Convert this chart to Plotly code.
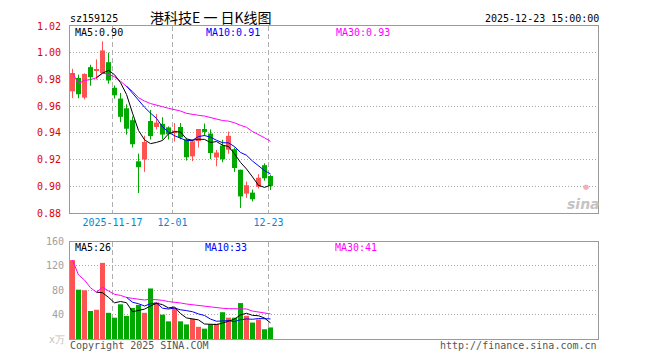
import plotly.graph_objects as go
import pandas as pd

# ---------------- data ----------------
dates = ["2025-11-06", "2025-11-07", "2025-11-10", "2025-11-11", "2025-11-12", "2025-11-13",
         "2025-11-14", "2025-11-17", "2025-11-18", "2025-11-19", "2025-11-20", "2025-11-21",
         "2025-11-24", "2025-11-25", "2025-11-26", "2025-11-27", "2025-11-28", "2025-12-01",
         "2025-12-02", "2025-12-03", "2025-12-04", "2025-12-05", "2025-12-08", "2025-12-09",
         "2025-12-10", "2025-12-11", "2025-12-12", "2025-12-15", "2025-12-16", "2025-12-17",
         "2025-12-18", "2025-12-19", "2025-12-22", "2025-12-23"]
opens = [0.9711, 0.9811, 0.9664, 0.9892, 0.9865, 0.9848, 0.9929, 0.9738, 0.9657, 0.9584,
         0.9495, 0.9187, 0.9201, 0.9489, 0.9444, 0.9467, 0.9441, 0.9398, 0.9444, 0.9351,
         0.9224, 0.9339, 0.9429, 0.9395, 0.9216, 0.9305, 0.9274, 0.9278, 0.9124, 0.8945,
         0.8953, 0.8997, 0.9158, 0.9077]
highs = [0.9880, 0.9836, 0.9846, 0.9910, 0.9950, 1.0085, 1.0000, 0.9755, 0.9699, 0.9614,
         0.9523, 0.9245, 0.9378, 0.9571, 0.9540, 0.9517, 0.9448, 0.9473, 0.9474, 0.9363,
         0.9351, 0.9429, 0.9470, 0.9426, 0.9272, 0.9348, 0.9410, 0.9290, 0.9124, 0.9035,
         0.8975, 0.9090, 0.9172, 0.9085]
lows = [0.9660, 0.9659, 0.9652, 0.9753, 0.9800, 0.9848, 0.9768, 0.9657, 0.9480, 0.9387,
        0.9290, 0.8949, 0.9108, 0.9350, 0.9426, 0.9350, 0.9350, 0.9335, 0.9351, 0.9193,
        0.9188, 0.9290, 0.9376, 0.9204, 0.9150, 0.9180, 0.9244, 0.9108, 0.8838, 0.8913,
        0.8887, 0.8984, 0.9042, 0.8972]
closes = [0.9848, 0.9689, 0.9841, 0.9817, 0.9870, 1.0017, 0.9792, 0.9681, 0.9520, 0.9431,
          0.9315, 0.9143, 0.9332, 0.9376, 0.9477, 0.9387, 0.9390, 0.9415, 0.9365, 0.9217,
          0.9337, 0.9429, 0.9407, 0.9249, 0.9253, 0.9202, 0.9378, 0.9137, 0.8924, 0.9008,
          0.8903, 0.9064, 0.9060, 0.9003]
volumes = [129.5, 81, 80, 46, 48, 125, 43, 35, 57, 38,
           51, 56, 43, 83, 60, 40, 29, 51, 29, 24,
           33, 20, 17, 24, 25, 44, 35, 35, 59, 38,
           27, 32, 16, 19]  # 万手

tick_dates = ["2025-11-17", "2025-12-01", "2025-12-23"]
tick_labels = ["2025-11-17", "12-01", "12-23"]
price_ticks = [0.88, 0.90, 0.92, 0.94, 0.96, 0.98, 1.00, 1.02]
vol_ticks = [40, 80, 120, 160]

symbol = "sz159125"
title = "港科技E 一 日K线图"
stamp = "2025-12-23 15:00:00"

# ---------------- styles / geometry (page pixels) ----------------
RED = "#ff5252"
GREEN = "#00a800"
MONO = "DejaVu Sans Mono"
OFF = 8                      # default page body margin
W, H = 660 - OFF, 360 - OFF  # figure size
PLOT_L, PLOT_R, PLOT_T, PLOT_B = 70, 598, 21, 339   # plot area in page pixels
L, T = PLOT_L - OFF, PLOT_T - OFF
R = W - (PLOT_R - OFF)
B = H - (PLOT_B - OFF)
PW, PH = PLOT_R - PLOT_L, PLOT_B - PLOT_T


def px(x):
    return (x - PLOT_L) / PW


def py(y):
    return (PLOT_B - y) / PH


df = pd.DataFrame({"o": opens, "h": highs, "l": lows, "c": closes, "v": volumes})
n = len(df)
idx = list(range(n))
up = df["c"] >= df["o"]
colors = [RED if u else GREEN for u in up]

ma5 = df["c"].rolling(5).mean()
ma10 = df["c"].rolling(10).mean()
ma30 = df["c"].rolling(30, min_periods=1).mean()
vma5 = df["v"].rolling(5).mean()
vma10 = df["v"].rolling(10).mean()
vma30 = df["v"].rolling(30, min_periods=1).mean()

fig = go.Figure()

# candle bodies
body_base = [min(o, c) for o, c in zip(df["o"], df["c"])]
body_h = [max(abs(c - o), 0.0006) for o, c in zip(df["o"], df["c"])]
fig.add_trace(go.Bar(x=idx, y=body_h, base=body_base, width=5 / 6,
                     marker=dict(color=colors, line=dict(width=0)),
                     xaxis="x", yaxis="y"))

# wicks
for col, flag in ((RED, True), (GREEN, False)):
    xs, ys = [], []
    for i in idx:
        if bool(up[i]) == flag:
            xs += [i, i, None]
            ys += [df["l"][i], df["h"][i], None]
    fig.add_trace(go.Scatter(x=xs, y=ys, mode="lines",
                             line=dict(color=col, width=1), xaxis="x", yaxis="y"))

for s, col in ((ma30, "#ff00ff"), (ma10, "#0000ff"), (ma5, "#000000")):
    fig.add_trace(go.Scatter(x=idx, y=s, mode="lines", line=dict(color=col, width=1),
                             xaxis="x", yaxis="y"))

# volume
fig.add_trace(go.Bar(x=idx, y=df["v"], width=5 / 6,
                     marker=dict(color=colors, line=dict(width=0)),
                     xaxis="x2", yaxis="y2"))
for s, col in ((vma30, "#ff00ff"), (vma10, "#0000ff"), (vma5, "#000000")):
    fig.add_trace(go.Scatter(x=idx, y=s, mode="lines", line=dict(color=col, width=1),
                             xaxis="x2", yaxis="y2"))

tickpos = [dates.index(d) - 1 / 3 for d in tick_dates]
xrange = [-2.5 / 6, 88 - 2.5 / 6]   # 6 px per trading day

axis_line = dict(showline=True, mirror=True, linecolor="#9a9a9a", linewidth=1,
                 zeroline=False, ticks="")

fig.update_layout(
    width=W, height=H, margin=dict(l=L, r=R, t=T, b=B, pad=0),
    paper_bgcolor="white", plot_bgcolor="white", showlegend=False,
    barmode="overlay",
    xaxis=dict(domain=[0, 1], anchor="y", range=xrange, tickmode="array",
               tickvals=tickpos, ticktext=tick_labels, showgrid=True,
               gridcolor="#b0b0b0", griddash="5px,3px", gridwidth=1,
               tickfont=dict(family=MONO, size=10, color="#0a86cf"), **axis_line),
    yaxis=dict(domain=[py(211), 1], anchor="x", range=[0.88, 1.02], tickmode="array",
               tickvals=price_ticks, ticktext=[f"{v:.2f}" for v in price_ticks],
               showgrid=True, gridcolor="#a8a8a8", griddash="1px,2px", gridwidth=1,
               tickfont=dict(family=MONO, size=10, color="#e00000"),
               ticklabelstandoff=6, **axis_line),
    xaxis2=dict(domain=[0, 1], anchor="y2", range=xrange, tickmode="array",
                tickvals=tickpos, showticklabels=False, showgrid=True,
                gridcolor="#b0b0b0", griddash="5px,3px", gridwidth=1, **axis_line),
    yaxis2=dict(domain=[0, py(240)], anchor="x2", range=[0, 160], tickmode="array",
                tickvals=vol_ticks, ticktext=[str(v) for v in vol_ticks],
                showgrid=True, gridcolor="#a8a8a8", griddash="1px,2px", gridwidth=1,
                tickfont=dict(family=MONO, size=10, color="#a0a0a0"),
                ticklabelstandoff=3, **axis_line),
)


def note(text, x, y, color="#000000", size=10, anchor="left", family=MONO, **kw):
    fig.add_annotation(text=text, x=px(x), y=py(y), xref="paper", yref="paper",
                       xanchor=anchor, yanchor="middle", showarrow=False,
                       font=dict(family=family, size=size, color=color), **kw)


note(symbol, 68, 13)
note(title, 211, 12, size=14, anchor="center", family="Noto Sans CJK SC")
note(stamp, 601, 13, anchor="right")
note(f"MA5:{ma5.iloc[-1]:.2f}", 73, 28)
note(f"MA10:{ma10.iloc[-1]:.2f}", 204, 28, color="#0000ff")
note(f"MA30:{ma30.iloc[-1]:.2f}", 334, 28, color="#ff00ff")
note(f"MA5:{vma5.iloc[-1]:.0f}", 73, 246)
note(f"MA10:{vma10.iloc[-1]:.0f}", 203, 246, color="#0000ff")
note(f"MA30:{vma30.iloc[-1]:.0f}", 333, 246, color="#ff00ff")
note("x万", 47, 340, color="#c0c0c0")
note("Copyright 2025 SINA.COM", 68, 346, color="#555555")
note("http://finance.sina.com.cn", 599, 346, color="#555555", anchor="right")
note("<b><i>sina</i></b>", 583, 202, color="#c4c4c4", size=14, anchor="center",
     family="DejaVu Sans")
note("●", 586, 185, color="#f3b0b0", size=7, anchor="center", family="DejaVu Sans")

fig.write_html("out.html")
